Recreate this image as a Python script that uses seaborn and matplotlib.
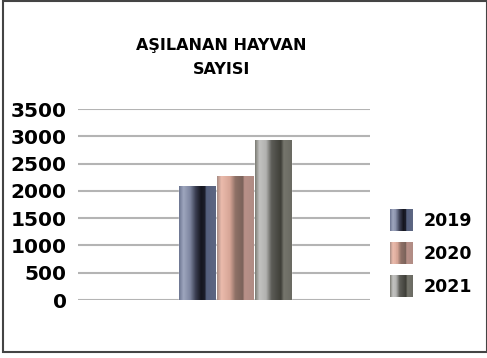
import numpy as np
import pandas as pd
import seaborn as sns
import matplotlib.pyplot as plt
from matplotlib.colors import LinearSegmentedColormap
from matplotlib.patches import Rectangle
from matplotlib.legend_handler import HandlerBase

sns.set_theme(style="white")
plt.rcParams["font.family"] = ["DejaVu Sans"]
plt.rcParams["text.color"] = "black"
plt.rcParams["ytick.color"] = "black"
plt.rcParams["ytick.labelcolor"] = "black"

years = ["2019", "2020", "2021"]
values = [2090, 2270, 2930]
y_ticks = [0, 500, 1000, 1500, 2000, 2500, 3000, 3500]
title = "AŞILANAN HAYVAN\nSAYISI"

# cylinder-like shading for each year
stops = {
    "2019": [(0, "#6b7490"), (0.12, "#9ea6be"), (0.3, "#7e86a0"), (0.45, "#3a3e52"),
             (0.6, "#15161f"), (0.7, "#1c1e2b"), (0.74, "#55607e"), (1, "#5d6682")],
    "2020": [(0, "#a88c84"), (0.12, "#ebbbac"), (0.35, "#d6a596"), (0.5, "#8e7066"),
             (0.7, "#7a625a"), (0.74, "#b89088"), (1, "#b08c84")],
    "2021": [(0, "#7a7a72"), (0.12, "#c2c2c0"), (0.3, "#b2b2b0"), (0.45, "#5c5c57"),
             (0.7, "#3f3f38"), (0.78, "#75756c"), (1, "#6a6a62")],
}
cmaps = {y: LinearSegmentedColormap.from_list(y, s) for y, s in stops.items()}
grad = np.linspace(0, 1, 256).reshape(1, -1)

df = pd.DataFrame({"grp": [""] * 3, "year": years, "value": values})

fig = plt.figure(figsize=(4.87, 3.58), dpi=100)
ax = fig.add_axes([0.16, 0.162, 0.6, 0.5335])

sns.barplot(data=df, x="grp", y="value", hue="year", hue_order=years,
            width=0.39, gap=0.05, palette=["#555"] * 3, legend=False, ax=ax)

for patch, yr in zip(ax.patches, years):
    x0, y0 = patch.get_x(), patch.get_y()
    w, h = patch.get_width(), patch.get_height()
    patch.set_facecolor("none")
    im = ax.imshow(grad, cmap=cmaps[yr], aspect="auto",
                   extent=[x0, x0 + w, y0, y0 + h], zorder=3)
    im.set_clip_path(patch)

ax.set_xlim(-0.538, 0.462)
ax.set_ylim(0, 3500)
ax.set_yticks(y_ticks)
ax.set_yticklabels([str(t) for t in y_ticks], fontsize=14.5, fontweight="heavy",
                   color="black")
ax.set_xticks([])
ax.set_xlabel("")
ax.set_ylabel("")
ax.yaxis.grid(True, color="#b4b4b4", linewidth=1.5)
ax.set_axisbelow(True)
ax.tick_params(axis="y", length=0, pad=8)
sns.despine(ax=ax, left=True, bottom=True, top=True, right=True)

fig.text(0.455, 0.838, title, ha="center", va="center", fontsize=11.5,
         fontweight="heavy", linespacing=1.75, color="black")


class GradientHandler(HandlerBase):
    def create_artists(self, legend, orig_handle, xdescent, ydescent,
                       width, height, fontsize, trans):
        cmap = cmaps[orig_handle.get_label()]
        n = 24
        out = []
        for i in range(n):
            r = Rectangle((-xdescent + width * i / n, -ydescent), width / n + 0.3,
                          height, facecolor=cmap((i + 0.5) / n), edgecolor="none",
                          transform=trans)
            out.append(r)
        return out


handles = [Rectangle((0, 0), 1, 1, label=y) for y in years]
leg = fig.legend(handles, years, handler_map={Rectangle: GradientHandler()},
                 loc="upper left", bbox_to_anchor=(0.768, 0.46), frameon=False,
                 prop={"size": 12.5, "weight": "heavy"}, handlelength=1.35,
                 handleheight=1.62, labelspacing=0.6, handletextpad=0.6)
for t in leg.get_texts():
    t.set_color("black")

fig.patches.append(Rectangle((0.006, 0.017), 0.994, 0.98, transform=fig.transFigure,
                             fill=False, edgecolor="#444444", linewidth=1.5))

fig.savefig("out.png", dpi=100)
